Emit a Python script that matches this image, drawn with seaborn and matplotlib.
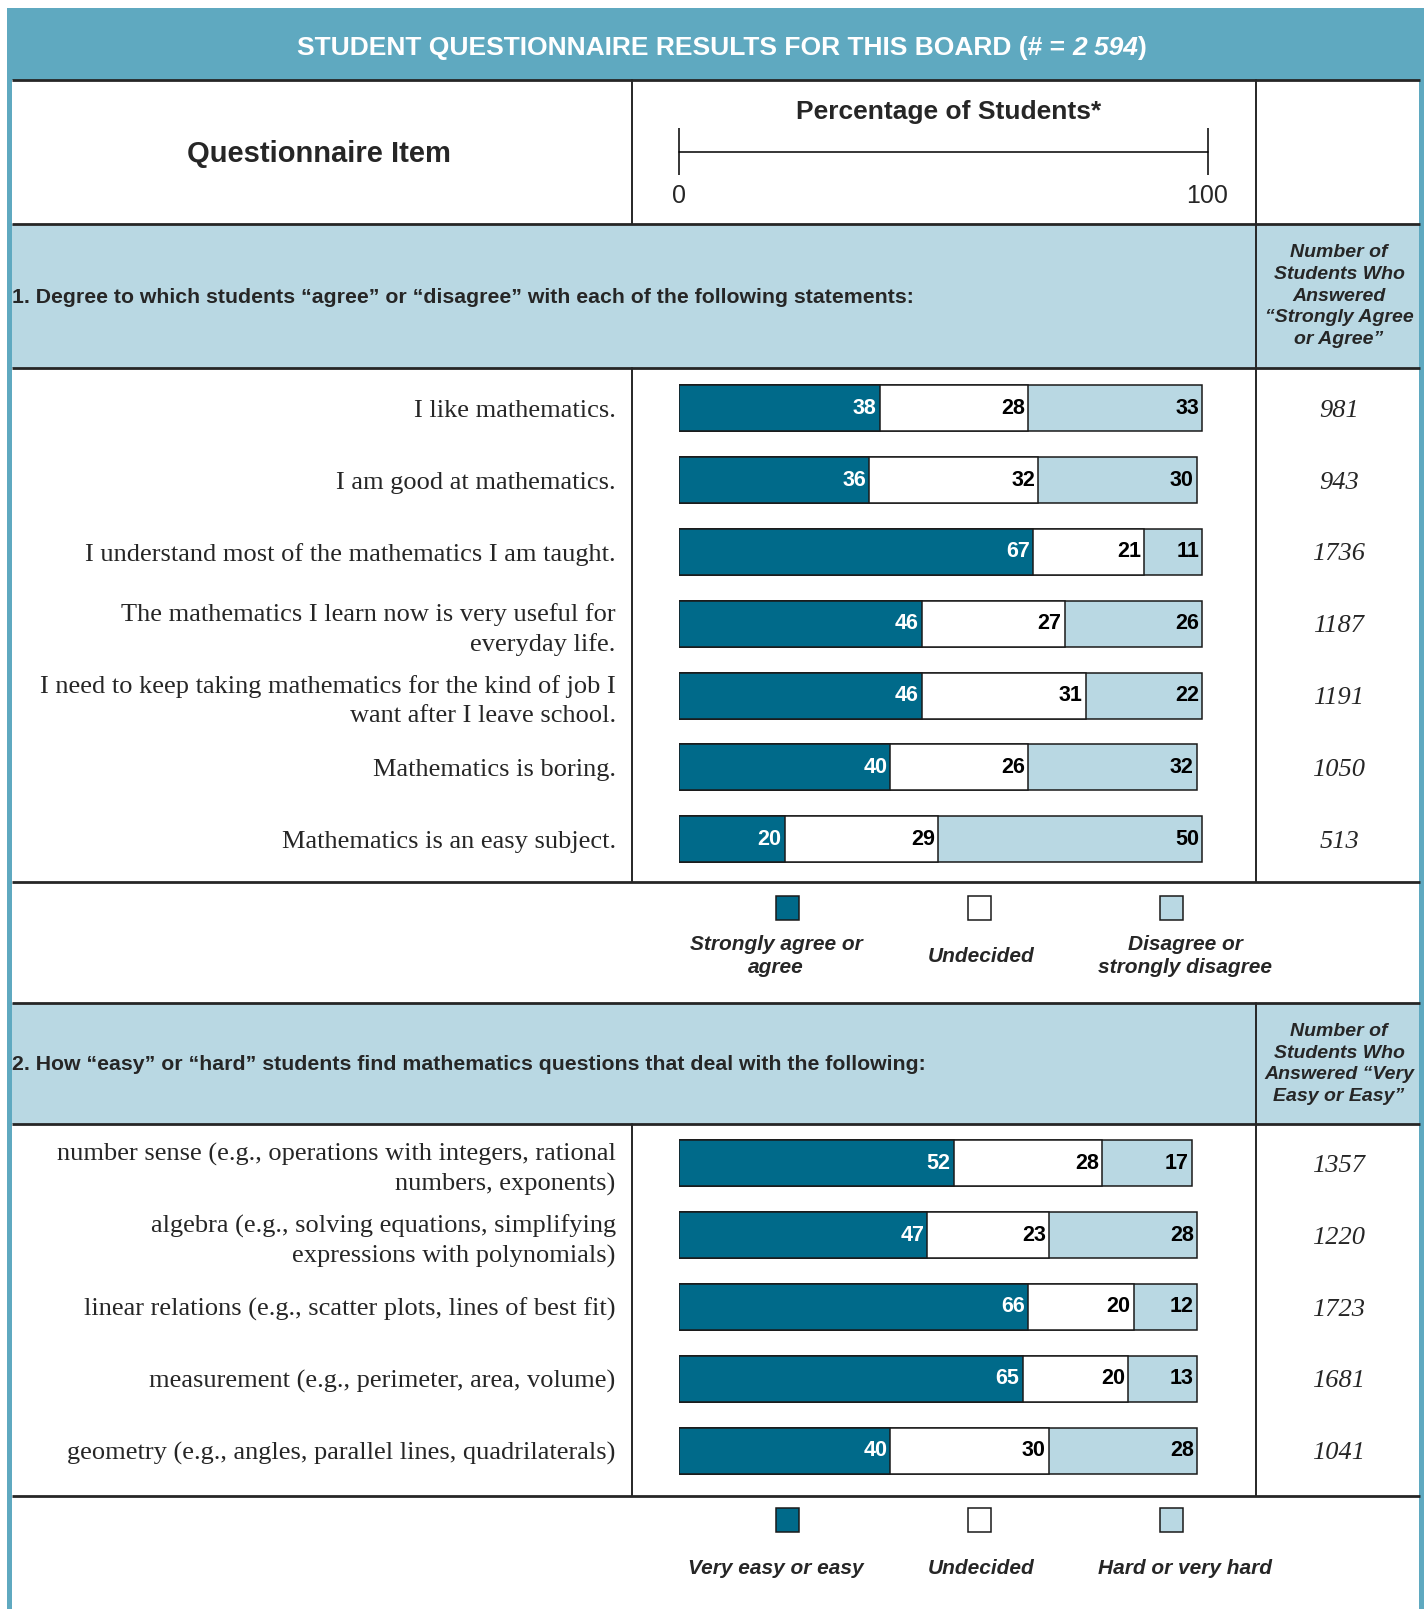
import matplotlib
matplotlib.use("Agg")
import matplotlib.pyplot as plt
from matplotlib.patches import Rectangle
import numpy as np
import pandas as pd
import seaborn as sns

# ---- data ----
items1 = [
    "I like mathematics.",
    "I am good at mathematics.",
    "I understand most of the mathematics I am taught.",
    "The mathematics I learn now is very useful for\neveryday life.",
    "I need to keep taking mathematics for the kind of job I\nwant after I leave school.",
    "Mathematics is boring.",
    "Mathematics is an easy subject.",
]
agree1 = [38, 36, 67, 46, 46, 40, 20]
undecided1 = [28, 32, 21, 27, 31, 26, 29]
disagree1 = [33, 30, 11, 26, 22, 32, 50]
count1 = [981, 943, 1736, 1187, 1191, 1050, 513]

items2 = [
    "number sense (e.g., operations with integers, rational\nnumbers, exponents)",
    "algebra (e.g., solving equations, simplifying\nexpressions with polynomials)",
    "linear relations (e.g., scatter plots, lines of best fit)",
    "measurement (e.g., perimeter, area, volume)",
    "geometry (e.g., angles, parallel lines, quadrilaterals)",
]
easy2 = [52, 47, 66, 65, 40]
undecided2 = [28, 23, 20, 20, 30]
hard2 = [17, 28, 12, 13, 28]
count2 = [1357, 1220, 1723, 1681, 1041]

legend1 = ["Strongly agree or\nagree", "Undecided", "Disagree or\nstrongly disagree"]
legend2 = ["Very easy or easy", "Undecided", "Hard or very hard"]

# ---- style ----
sns.set_style("white")
plt.rcParams["font.family"] = ["Liberation Sans", "DejaVu Sans"]
SERIF = ["Liberation Serif", "DejaVu Serif"]

TEAL = "#5FA9C0"
BAND = "#B9D8E3"
DARK = "#006A8A"
LIGHT = "#B9D8E3"
LINE = "#262626"

W, H = 1425, 1609
fig = plt.figure(figsize=(W / 100, H / 100), dpi=100)
bg = fig.add_axes([0, 0, 1, 1])
bg.set_xlim(0, W)
bg.set_ylim(H, 0)
bg.axis("off")

# frame and bands
bg.add_patch(Rectangle((7, 8), 1417, H, facecolor=TEAL, edgecolor="none"))
bg.add_patch(Rectangle((12, 80), 1407, H, facecolor="white", edgecolor="none"))
bg.add_patch(Rectangle((12, 224), 1407, 144, facecolor=BAND, edgecolor="none"))
bg.add_patch(Rectangle((12, 1003), 1407, 121, facecolor=BAND, edgecolor="none"))

for y in [80, 224, 368, 882, 1003, 1124, 1496]:
    bg.plot([12, 1420], [y, y], color=LINE, lw=2.0, solid_capstyle="butt")
for x, y0, y1 in [(632, 80, 224), (632, 368, 882), (632, 1124, 1496),
                  (1256, 80, 882), (1256, 1003, 1496)]:
    bg.plot([x, x], [y0, y1], color=LINE, lw=1.4)

# title with bold-italic count
renderer = fig.canvas.get_renderer()
parts = [("STUDENT QUESTIONNAIRE RESULTS FOR THIS BOARD (# = ", "normal"),
         ("2 594", "italic"), (")", "normal")]
texts = []
for s, st in parts:
    t = bg.text(0, 48, s, color="white", fontsize=19, weight="bold", style=st,
                ha="left", va="center")
    texts.append(t)
widths = [t.get_window_extent(renderer).width for t in texts]
x = 722 - sum(widths) / 2
for t, w in zip(texts, widths):
    t.set_x(x)
    x += w

bg.text(319, 154, "Questionnaire Item", fontsize=21, weight="bold", ha="center", va="center")

# bar geometry
X0, X100 = 679, 1207.5
ROW = 71.8
BAR_W = 46 / ROW


def px_axes(x0, y0, x1, y1):
    return fig.add_axes([x0 / W, 1 - y1 / H, (x1 - x0) / W, (y1 - y0) / H])


# scale header
hx = px_axes(X0, 80, X100, 224)
hx.set_xlim(0, 100)
hx.set_ylim(224, 80)
hx.axis("off")
hx.plot([0, 100], [152, 152], color="black", lw=1.1, clip_on=False)
hx.vlines([0, 100], 128, 175, color="black", lw=1.1, clip_on=False)
hx.text(0, 196, "0", fontsize=18, ha="center", va="center")
hx.text(100, 196, "100", fontsize=18, ha="center", va="center")
hx.text(51, 112, "Percentage of Students*", fontsize=19, weight="bold", ha="center", va="center")


def draw_section(first_center, items, a, b, c, counts):
    n = len(items)
    top = first_center - ROW / 2
    ax = px_axes(X0, top, X100, top + n * ROW)
    df = pd.DataFrame({"item": items, "a": a, "b": b, "c": c})
    df["ab"] = df["a"] + df["b"]
    df["abc"] = df["ab"] + df["c"]
    for col, color in [("abc", LIGHT), ("ab", "white"), ("a", DARK)]:
        sns.barplot(data=df, x=col, y="item", orient="h", color=color, saturation=1,
                    width=BAR_W, edgecolor="#1a1a1a", linewidth=1.1, ax=ax)
    ax.set_xlim(0, 100)
    ax.set_ylim(n - 0.5, -0.5)
    ax.set_xlabel("")
    ax.set_ylabel("")
    ax.set_xticks([])
    ax.set_facecolor("none")
    for sp in ax.spines.values():
        sp.set_visible(False)
    ax.tick_params(axis="y", length=0, pad=45.6)
    for lab in ax.get_yticklabels():
        lab.set_fontfamily(SERIF)
        lab.set_fontsize(19)
        lab.set_linespacing(1.38)
    for i, r in df.iterrows():
        ax.text(r["a"] - 0.6, i, str(r["a"]), ha="right", va="center",
                color="white", fontsize=15.5, weight="bold")
        ax.text(r["ab"] - 0.6, i, str(r["b"]), ha="right", va="center",
                color="black", fontsize=15.5, weight="bold")
        ax.text(r["abc"] - 0.6, i, str(r["c"]), ha="right", va="center",
                color="black", fontsize=15.5, weight="bold")
    xc = (1339 - X0) / (X100 - X0)
    for i, v in enumerate(counts):
        ax.text(xc, i, str(v), transform=ax.get_yaxis_transform(), ha="center",
                va="center_baseline", family=SERIF, style="italic", fontsize=19)
    return ax


draw_section(408.3, items1, agree1, undecided1, disagree1, count1)
draw_section(1163.4, items2, easy2, undecided2, hard2, count2)

# section headers
bg.text(12, 297, "1. Degree to which students \u201cagree\u201d or \u201cdisagree\u201d with each of the following statements:",
        fontsize=15.3, weight="bold", ha="left", va="center")
bg.text(1339, 296, "Number of\nStudents Who\nAnswered\n\u201cStrongly Agree\nor Agree\u201d",
        fontsize=14, weight="bold", style="italic", ha="center", va="center", linespacing=1.35)
bg.text(12, 1065, "2. How \u201ceasy\u201d or \u201chard\u201d students find mathematics questions that deal with the following:",
        fontsize=15.3, weight="bold", ha="left", va="center")
bg.text(1339, 1064, "Number of\nStudents Who\nAnswered \u201cVery\nEasy or Easy\u201d",
        fontsize=14, weight="bold", style="italic", ha="center", va="center", linespacing=1.35)

# legends
sq_x = [788, 980, 1172]
lab_x = [776, 981, 1185]
sq_colors = [DARK, "white", LIGHT]
for labels, sq_y, lab_y in [(legend1, 908, 956), (legend2, 1520, 1569)]:
    for sx, lx, col, lab in zip(sq_x, lab_x, sq_colors, labels):
        bg.add_patch(Rectangle((sx - 11.5, sq_y - 12), 23, 24, facecolor=col,
                               edgecolor="#1a1a1a", lw=1.1))
        bg.text(lx, lab_y, lab, fontsize=15, weight="bold", style="italic",
                ha="center", va="center", linespacing=1.3)

fig.savefig("out.png", dpi=100)
